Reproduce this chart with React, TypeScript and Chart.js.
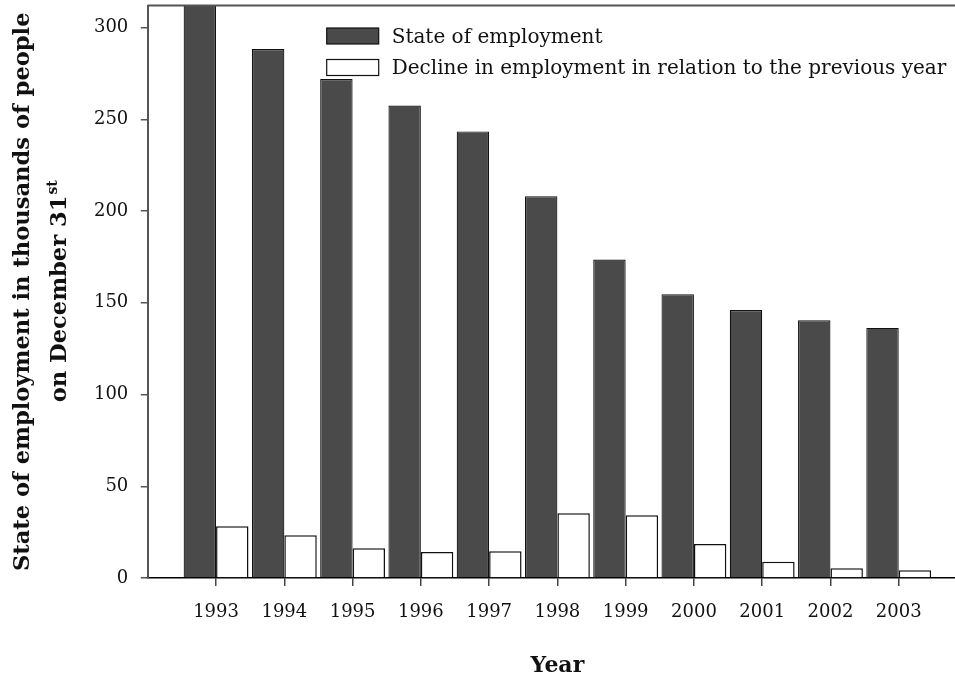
import React, { useEffect, useRef } from 'react';
import { Chart, registerables } from 'chart.js';

Chart.register(...registerables);

const years = [1993, 1994, 1995, 1996, 1997, 1998, 1999, 2000, 2001, 2002, 2003];
const yearLabels = ['1993', '1994', '1995', '1996', '1997', '1998', '1999', '2000', '2001', '2002', '2003'];
const employment = [312, 288.3, 271.9, 257.5, 243.4, 208.1, 173.6, 154.7, 146.0, 140.5, 136.3];
const decline = [28.2, 23.3, 16.2, 14.2, 14.6, 35.3, 34.2, 18.5, 8.9, 5.3, 4.2];
const yTicks = [0, 50, 100, 150, 200, 250, 300];
const xRange = [1992, 2004];
const yRange = [0, 312];
const seriesNames = ['State of employment', 'Decline in employment in relation to the previous year'];
const yTitleLine1 = 'State of employment in thousands of people';
const yTitleLine2 = 'on December 31';
const yTitleSup = 'st';
const xTitle = 'Year';

const FONT = '"DejaVu Serif", "Liberation Serif", serif';
const DARK = '#4a4a4a';

const decorPlugin = {
  id: 'decor',
  afterDraw(chart: any) {
    const { ctx, chartArea } = chart;
    const ca = chartArea;
    ctx.save();
    // top frame line
    ctx.strokeStyle = '#555';
    ctx.lineWidth = 2;
    ctx.beginPath();
    ctx.moveTo(ca.left, ca.top);
    ctx.lineTo(ca.right, ca.top);
    ctx.stroke();

    // legend
    const boxX = 326.7;
    const boxW = 52;
    const boxH = 16;
    const rows = [
      { y: 28, base: 43, fill: DARK },
      { y: 59.5, base: 74, fill: '#ffffff' },
    ];
    ctx.font = `20px ${FONT}`;
    ctx.textAlign = 'left';
    ctx.textBaseline = 'alphabetic';
    rows.forEach((r, i) => {
      ctx.fillStyle = r.fill;
      ctx.fillRect(boxX, r.y, boxW, boxH);
      ctx.strokeStyle = '#111';
      ctx.lineWidth = 1.2;
      ctx.strokeRect(boxX, r.y, boxW, boxH);
      ctx.fillStyle = '#111';
      ctx.fillText(seriesNames[i], 391.7, r.base);
    });

    // x title
    ctx.font = `bold 22px ${FONT}`;
    ctx.textAlign = 'center';
    ctx.fillStyle = '#111';
    ctx.fillText(xTitle, (ca.left + ca.right) / 2, 672);

    // y title (rotated)
    const cy = (ca.top + ca.bottom) / 2;
    ctx.save();
    ctx.translate(28.5, cy);
    ctx.rotate(-Math.PI / 2);
    ctx.font = `bold 22.6px ${FONT}`;
    ctx.textAlign = 'center';
    ctx.fillText(yTitleLine1, 0, 0);
    ctx.restore();

    ctx.save();
    ctx.translate(66, cy);
    ctx.rotate(-Math.PI / 2);
    ctx.font = `bold 22.6px ${FONT}`;
    const w1 = ctx.measureText(yTitleLine2).width;
    ctx.font = `bold 14px ${FONT}`;
    const w2 = ctx.measureText(yTitleSup).width;
    const start = -(w1 + w2) / 2;
    ctx.textAlign = 'left';
    ctx.font = `bold 22.6px ${FONT}`;
    ctx.fillText(yTitleLine2, start, 0);
    ctx.font = `bold 14px ${FONT}`;
    ctx.fillText(yTitleSup, start + w1 + 1, -9);
    ctx.restore();

    ctx.restore();
  },
};

export default function App() {
  const canvasRef = useRef<HTMLCanvasElement | null>(null);

  useEffect(() => {
    const canvas = canvasRef.current;
    if (!canvas) return;
    const chart = new Chart(canvas, {
      type: 'bar',
      data: {
        datasets: [
          {
            label: seriesNames[0],
            data: years.map((x, i) => ({ x, y: employment[i] })),
            backgroundColor: DARK,
            borderColor: '#111',
            borderWidth: 1.2,
            categoryPercentage: 0.95,
            barPercentage: 1.0,
          },
          {
            label: seriesNames[1],
            data: years.map((x, i) => ({ x, y: decline[i] })),
            backgroundColor: '#ffffff',
            borderColor: '#111',
            borderWidth: 1.5,
            categoryPercentage: 0.95,
            barPercentage: 1.0,
          },
        ] as any,
      },
      options: {
        animation: false,
        responsive: true,
        maintainAspectRatio: false,
        devicePixelRatio: 1,
        layout: { padding: { top: 5.5, left: 0, right: 0, bottom: 0 } },
        plugins: {
          legend: { display: false },
          tooltip: { enabled: false },
          title: { display: false },
        },
        scales: {
          x: {
            type: 'linear',
            min: xRange[0],
            max: xRange[1],
            offset: false,
            afterBuildTicks: (scale: any) => {
              scale.ticks = years.map((v) => ({ value: v }));
            },
            afterFit: (scale: any) => {
              scale.height = 99;
              scale.paddingLeft = 0;
              scale.paddingRight = 0;
            },
            ticks: {
              autoSkip: false,
              maxRotation: 0,
              padding: 16,
              color: '#111',
              font: { family: FONT, size: 18 },
              callback: (value: any) => {
                const idx = years.indexOf(Number(value));
                return idx >= 0 ? yearLabels[idx] : '';
              },
            },
            grid: {
              display: true,
              drawOnChartArea: false,
              drawTicks: true,
              tickLength: 8,
              color: '#444',
              lineWidth: 1.5,
              offset: false,
            },
            border: { display: true, color: '#000', width: 1.5 },
          },
          y: {
            type: 'linear',
            min: yRange[0],
            max: yRange[1],
            afterBuildTicks: (scale: any) => {
              scale.ticks = yTicks.map((v) => ({ value: v }));
            },
            afterFit: (scale: any) => {
              scale.width = 147.8;
              scale.paddingTop = 0;
              scale.paddingBottom = 0;
            },
            ticks: {
              padding: 12.5,
              color: '#111',
              font: { family: FONT, size: 18 },
              callback: (value: any) => String(value),
            },
            grid: {
              display: true,
              drawOnChartArea: false,
              drawTicks: true,
              tickLength: 7,
              color: '#555',
              lineWidth: 1.5,
            },
            border: { display: true, color: '#555', width: 2 },
          },
        },
      } as any,
      plugins: [decorPlugin],
    });
    return () => chart.destroy();
  }, []);

  return (
    <div
      style={{
        position: 'fixed',
        left: 0,
        top: 0,
        width: 955,
        height: 677,
        overflow: 'hidden',
        background: '#ffffff',
      }}
    >
      <div style={{ position: 'relative', width: 967, height: 677 }}>
        <canvas ref={canvasRef} />
      </div>
    </div>
  );
}
